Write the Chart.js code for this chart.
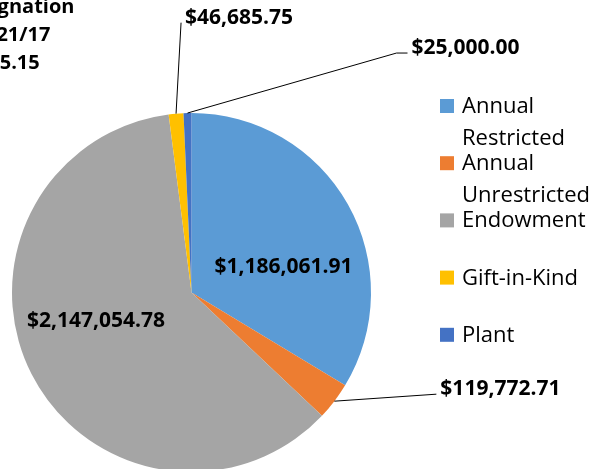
<!DOCTYPE html>
<html>
<head>
<meta charset="utf-8">
<script src="https://cdn.jsdelivr.net/npm/chart.js@4.4.0/dist/chart.umd.min.js"></script>
<style>
  html, body { margin: 0; padding: 0; overflow: hidden; background: #fff; }
  #wrap { width: 596px; height: 474px; position: relative; }
</style>
</head>
<body>
<div id="wrap"><canvas id="pieChart"></canvas></div>
<script>
const categories = ["Annual Restricted", "Annual Unrestricted", "Endowment", "Gift-in-Kind", "Plant"];
const amounts = [1186061.91, 119772.71, 2147054.78, 46685.75, 25000.00];
const sliceColors = ["#5B9BD5", "#ED7D31", "#A5A5A5", "#FFC000", "#4472C4"];
const titleText = ["Gifts by Designation", "7/1/16 - 2/21/17"];

// where each value label goes: inside = offset from centre (in radii), leader = points from slice edge
const labelSpots = [
  { inside: [0.512, -0.153] },
  { leader: [[102, -7]] },
  { inside: [-0.532, 0.145] },
  { leader: [[5, -91]] },
  { leader: [[209, -60], [220, -60]] }
];

const money = v => "$" + v.toLocaleString("en-US", { minimumFractionDigits: 2, maximumFractionDigits: 2 });
const total = amounts.reduce((a, b) => a + b, 0);
const titleLines = [...titleText, money(total)];

const labelFont = "bold 21px 'Open Sans'";
const legendFont = "22px 'Open Sans'";

// title sits mostly off the left edge, like the original crop
const titlePlugin = {
  id: "cutTitle",
  afterDraw(chart) {
    const c = chart.ctx;
    c.save();
    c.font = "bold 20px 'Open Sans'";
    c.fillStyle = "#000";
    c.textAlign = "center";
    c.textBaseline = "alphabetic";
    titleLines.forEach((t, i) => c.fillText(t, -26, 13 + i * 28));
    c.restore();
  }
};

// value labels, with leader lines for the small slices
const valueLabels = {
  id: "valueLabels",
  afterDraw(chart) {
    const c = chart.ctx;
    const arcs = chart.getDatasetMeta(0).data;
    c.save();
    c.font = labelFont;
    c.fillStyle = "#000";
    c.strokeStyle = "#000";
    c.lineWidth = 1;
    arcs.forEach((arc, i) => {
      const spot = labelSpots[i];
      const text = money(amounts[i]);
      const r = arc.outerRadius;
      if (spot.inside) {
        c.textAlign = "center";
        c.textBaseline = "alphabetic";
        c.fillText(text, arc.x + spot.inside[0] * r, arc.y + spot.inside[1] * r + 8);
        return;
      }
      const mid = (arc.startAngle + arc.endAngle) / 2;
      const ex = arc.x + Math.cos(mid) * r;
      const ey = arc.y + Math.sin(mid) * r;
      c.beginPath();
      c.moveTo(ex, ey);
      spot.leader.forEach(p => c.lineTo(ex + p[0], ey + p[1]));
      c.stroke();
      const last = spot.leader[spot.leader.length - 1];
      c.textAlign = "left";
      c.textBaseline = "alphabetic";
      c.fillText(text, ex + last[0] + 4, ey + last[1] + 1);
    });
    c.restore();
  }
};

// legend on the right, words wrapped like the original
const sideLegend = {
  id: "sideLegend",
  afterDraw(chart) {
    const c = chart.ctx;
    c.save();
    c.font = legendFont;
    c.fillStyle = "#000";
    c.textAlign = "left";
    c.textBaseline = "alphabetic";
    const maxW = 134;
    categories.forEach((name, i) => {
      const base = 113 + i * 57.2;
      c.fillStyle = sliceColors[i];
      c.fillRect(440, base - 14, 14, 14);
      c.fillStyle = "#000";
      const words = name.split(" ");
      const lines = [];
      let cur = "";
      words.forEach(w => {
        const test = cur ? cur + " " + w : w;
        if (cur && c.measureText(test).width > maxW) {
          lines.push(cur);
          cur = w;
        } else {
          cur = test;
        }
      });
      lines.push(cur);
      lines.forEach((l, k) => c.fillText(l, 462, base + k * 32));
    });
    c.restore();
  }
};

new Chart(document.getElementById("pieChart"), {
  type: "pie",
  data: {
    labels: categories,
    datasets: [{
      data: amounts,
      backgroundColor: sliceColors,
      borderWidth: 0
    }]
  },
  options: {
    responsive: true,
    maintainAspectRatio: false,
    animation: false,
    layout: { padding: { left: 12, right: 225, top: 113, bottom: 2 } },
    plugins: {
      legend: { display: false },
      tooltip: { enabled: false }
    }
  },
  plugins: [titlePlugin, valueLabels, sideLegend]
});
</script>
</body>
</html>
